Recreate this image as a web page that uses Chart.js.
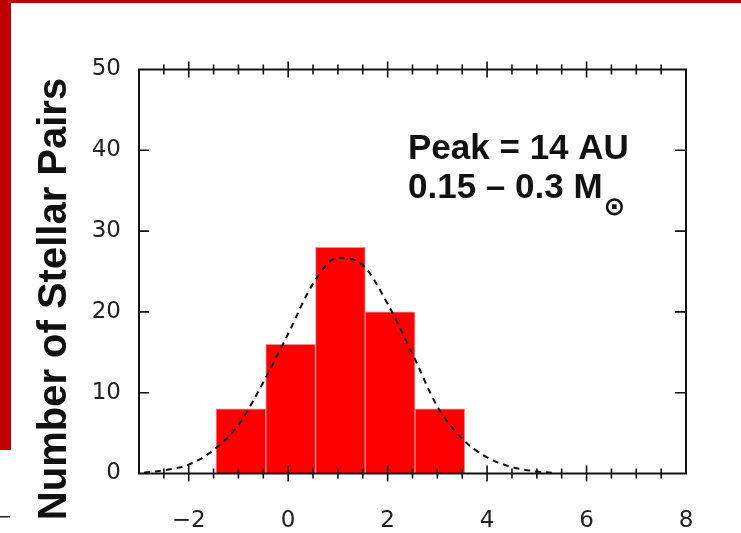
<!DOCTYPE html>
<html>
<head>
<meta charset="utf-8">
<script src="https://cdn.jsdelivr.net/npm/chart.js@4.4.1/dist/chart.umd.min.js"></script>
<style>
  html, body { margin: 0; padding: 0; background: #fff; overflow: hidden; }
</style>
</head>
<body>
<canvas id="chart" width="741" height="533"></canvas>
<script>
// histogram: bin centres (log separation) and number of pairs
const binCenters = [-0.95, 0.05, 1.05, 2.05, 3.05];
const binCounts = [8, 16, 28, 20, 8];

// dashed fit curve
const fitX = [-2.9, -2.5, -2, -1.5, -1, -0.5, 0, 0.5, 1, 1.5, 2, 2.5, 3, 3.5, 4, 4.5, 5, 5.3];
const fitY = [0.1, 0.4, 1.1, 2.9, 6.0, 11.3, 17.3, 23.5, 26.7, 25.8, 21.0, 14.8, 8.3, 4.3, 2.0, 0.8, 0.25, 0.1];

// axes
const xTicks = [-2, 0, 2, 4, 6, 8];
const yTicks = [0, 10, 20, 30, 40, 50];

// texts
const yTitle = 'Number of Stellar Pairs';
const noteLine1 = 'Peak = 14 AU';
const noteLine2 = '0.15 – 0.3 M';
const noteSub = '⊙';

const ink = '#111';

// slide decoration, frame with crossing ticks, title and note
const decor = {
    id: 'decor',
    beforeDraw(chart) {
        const c = chart.ctx;
        c.save();
        c.fillStyle = '#fff';
        c.fillRect(0, 0, chart.width, chart.height);
        c.fillStyle = '#c00000';
        c.fillRect(0, 0, chart.width, 3);   // top red line
        c.fillRect(0, 0, 11, 450);          // left red bar
        c.fillStyle = '#222';
        c.fillRect(0, 516, 10, 1.5);
        c.restore();
    },
    afterDraw(chart) {
        const c = chart.ctx;
        const a = chart.chartArea;
        const xs = chart.scales.x;
        const ys = chart.scales.y;
        c.save();
        c.strokeStyle = ink;
        c.lineWidth = 2;
        c.strokeRect(a.left, a.top, a.right - a.left, a.bottom - a.top);

        // x ticks, top and bottom, crossing the frame
        c.lineWidth = 1.6;
        c.beginPath();
        for (let v = -2.5; v < 8; v += 0.5) {
            const px = xs.getPixelForValue(v);
            const len = xTicks.includes(v) ? 8 : 5;
            c.moveTo(px, a.bottom - len); c.lineTo(px, a.bottom + len);
            c.moveTo(px, a.top - len); c.lineTo(px, a.top + len);
        }
        // y ticks, inward on both sides
        yTicks.forEach(v => {
            if (v === 0 || v === 50) return;
            const py = ys.getPixelForValue(v);
            c.moveTo(a.left, py); c.lineTo(a.left + 10, py);
            c.moveTo(a.right, py); c.lineTo(a.right - 11, py);
        });
        c.stroke();

        // y title
        c.fillStyle = ink;
        c.font = 'bold 40px "Liberation Sans", Arial, sans-serif';
        c.translate(66, 299);
        c.rotate(-Math.PI / 2);
        c.textAlign = 'center';
        c.textBaseline = 'alphabetic';
        c.fillText(yTitle, 0, 0);
        c.setTransform(1, 0, 0, 1, 0, 0);

        // note
        c.textAlign = 'left';
        c.font = 'bold 35px "Liberation Sans", Arial, sans-serif';
        c.fillText(noteLine1, 408, 159);
        c.fillText(noteLine2, 408, 198);
        const w = c.measureText(noteLine2).width;
        c.font = 'bold 26px "DejaVu Sans", sans-serif';
        c.fillText(noteSub, 408 + w + 1, 215);
        c.restore();
    }
};

const tickFont = { family: '"DejaVu Sans", sans-serif', size: 23 };

new Chart(document.getElementById('chart').getContext('2d'), {
    type: 'bar',
    data: {
        datasets: [
            {
                type: 'line',
                data: fitX.map((x, i) => ({ x: x, y: fitY[i] })),
                borderColor: ink,
                borderWidth: 2,
                borderDash: [6, 5],
                pointRadius: 0,
                cubicInterpolationMode: 'monotone',
                fill: false,
                order: 0
            },
            {
                type: 'bar',
                data: binCenters.map((x, i) => ({ x: x, y: binCounts[i] })),
                backgroundColor: '#ff0000',
                borderColor: '#f08c8c',
                borderWidth: 1,
                barPercentage: 1,
                categoryPercentage: 1,
                order: 1
            }
        ]
    },
    options: {
        responsive: false,
        animation: false,
        layout: { padding: { top: 69.5, right: 55, left: 0, bottom: 0 } },
        plugins: { legend: { display: false }, tooltip: { enabled: false } },
        scales: {
            x: {
                type: 'linear',
                min: -3,
                max: 8,
                offset: false,
                grid: { display: false },
                border: { display: false },
                afterBuildTicks: s => { s.ticks = xTicks.map(v => ({ value: v })); },
                afterFit: s => { s.height = 59.5; },
                ticks: {
                    padding: 26,
                    color: '#222',
                    font: tickFont,
                    maxRotation: 0,
                    callback: v => String(v).replace('-', '−')
                }
            },
            y: {
                min: 0,
                max: 50,
                grid: { display: false },
                border: { display: false },
                afterBuildTicks: s => { s.ticks = yTicks.map(v => ({ value: v })); },
                afterFit: s => { s.width = 139; },
                ticks: { padding: 10, color: '#222', font: tickFont }
            }
        }
    },
    plugins: [decor]
});
</script>
</body>
</html>
